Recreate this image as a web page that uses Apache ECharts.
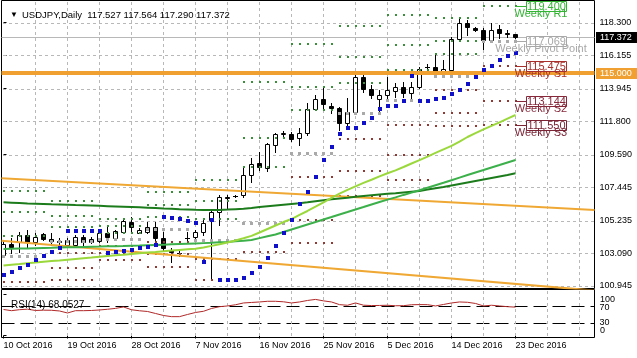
<!DOCTYPE html>
<html><head><meta charset="utf-8">
<script src="https://cdn.jsdelivr.net/npm/echarts@6/dist/echarts.min.js"></script>
<style>html,body{margin:0;padding:0;background:#fff}#c{width:637px;height:358px}</style>
</head><body><div id="c"></div>
<script>
// ---- bar data (daily, incl. Sunday bars) ----
const open = [103.00,103.70,103.85,104.30,103.86,104.34,104.03,103.87,103.64,103.64,104.14,103.86,103.92,104.41,104.08,104.51,105.17,104.45,104.51,104.80,104.08,103.31,103.12,104.07,104.19,104.51,105.29,105.83,106.80,106.88,106.94,108.25,109.03,108.70,110.23,110.98,110.96,110.67,111.00,112.59,113.25,112.81,112.65,111.66,112.43,114.74,113.91,113.25,113.53,113.81,114.04,113.68,114.04,115.40,115.40,115.13,115.18,117.21,118.26,117.93,117.82,117.16,117.86,117.60,117.527];
const high = [103.95,104.10,104.51,104.63,104.45,104.41,104.41,104.08,104.08,104.30,104.30,104.16,104.51,104.96,104.63,105.40,105.50,104.74,105.17,105.17,104.51,103.42,103.31,104.51,104.63,105.29,105.94,106.94,106.94,106.94,108.70,109.36,109.79,110.38,111.00,111.18,111.09,111.33,113.02,113.53,113.97,112.98,112.76,113.31,114.85,114.85,114.19,113.86,114.74,114.30,114.41,114.41,115.40,115.58,116.17,115.84,117.38,118.66,118.48,118.00,117.93,118.26,118.15,117.82,117.564];
const low = [102.90,103.11,103.19,103.52,103.64,103.97,103.64,103.64,103.52,103.52,103.57,103.75,103.86,103.86,103.97,104.41,104.41,104.41,104.41,103.86,103.31,102.54,102.91,103.86,104.08,104.30,101.33,104.96,106.06,106.80,106.82,107.81,108.58,108.54,109.79,110.83,110.50,110.23,110.89,112.54,112.54,112.32,111.22,111.55,112.32,113.75,113.31,112.43,113.20,113.42,113.42,113.20,113.97,115.23,115.07,114.74,115.07,117.16,117.49,117.75,116.55,117.05,117.27,117.38,117.290];
const close = [103.72,103.48,104.30,103.86,104.19,104.03,103.90,103.85,103.97,104.19,103.81,104.01,104.41,104.14,104.56,105.24,104.80,104.63,104.85,104.08,103.42,103.19,103.10,104.08,104.51,105.07,105.83,106.82,106.76,106.90,108.25,108.98,108.76,110.30,110.96,111.00,110.63,111.00,112.59,113.25,112.92,112.65,111.66,112.43,114.74,113.91,113.53,113.53,113.86,114.04,113.68,114.04,115.23,115.38,115.13,115.23,117.21,118.26,118.00,117.81,117.16,117.82,117.60,117.58,117.372];

// ---- indicators ----
const sar = [101.63,101.88,102.09,102.35,102.65,102.93,103.18,103.42,104.59,104.59,104.59,104.59,104.54,103.14,103.20,103.24,103.31,103.42,103.53,103.64,105.50,105.44,105.33,105.24,105.11,102.54,105.29,101.33,101.33,101.33,101.44,101.77,102.17,102.76,103.57,104.41,105.29,106.32,107.15,108.14,109.24,110.12,110.94,111.33,111.33,111.66,112.03,112.59,112.83,112.83,113.14,114.78,113.14,113.14,113.27,113.35,113.58,113.86,114.26,114.74,115.18,115.46,115.84,116.12,116.32];
const maFast = [102.29,102.34,102.38,102.44,102.48,102.53,102.58,102.62,102.67,102.72,102.77,102.81,102.86,102.91,102.96,103.00,103.05,103.10,103.14,103.18,103.23,103.27,103.31,103.35,103.39,103.47,103.58,103.69,103.80,103.93,104.08,104.24,104.46,104.69,104.92,105.15,105.35,105.62,105.88,106.16,106.45,106.75,107.03,107.27,107.50,107.73,107.94,108.16,108.37,108.56,108.78,109.01,109.23,109.47,109.71,109.94,110.17,110.46,110.76,111.02,111.26,111.49,111.73,111.97,112.21];
const maMid = [103.37,103.39,103.40,103.41,103.43,103.44,103.45,103.47,103.48,103.49,103.51,103.52,103.53,103.55,103.56,103.57,103.59,103.60,103.62,103.64,103.66,103.68,103.70,103.72,103.74,103.76,103.78,103.81,103.83,103.88,103.92,103.97,104.09,104.21,104.33,104.49,104.66,104.82,104.99,105.15,105.32,105.48,105.65,105.81,105.98,106.14,106.31,106.47,106.63,106.78,106.94,107.09,107.25,107.42,107.58,107.74,107.91,108.08,108.25,108.42,108.58,108.75,108.91,109.08,109.24];
const maSlow = [106.45,106.43,106.41,106.38,106.36,106.34,106.32,106.31,106.29,106.27,106.26,106.24,106.22,106.20,106.18,106.16,106.14,106.12,106.10,106.08,106.05,106.03,106.00,105.98,105.96,105.95,105.95,105.95,105.97,106.00,106.03,106.08,106.14,106.19,106.24,106.29,106.34,106.39,106.45,106.52,106.59,106.65,106.71,106.76,106.82,106.87,106.92,106.97,107.01,107.05,107.10,107.15,107.20,107.29,107.38,107.46,107.56,107.66,107.76,107.86,107.96,108.06,108.16,108.26,108.37];
const rsi = [62.4,59.5,61.9,63.1,60.0,60.7,60.5,58.8,54.0,59.5,59.5,60.0,61.2,62.9,65.0,68.4,61.7,59.3,57.6,52.8,48.0,45.2,45.2,50.4,55.2,58.1,64.8,69.1,70.8,73.7,78.0,79.2,80.4,82.0,82.0,80.8,78.0,80.4,84.0,86.5,83.0,80.4,74.0,72.5,78.0,72.7,71.8,72.0,72.5,71.3,71.5,73.7,74.1,73.9,70.8,74.4,78.0,80.4,79.6,76.8,70.8,72.5,70.8,69.1,68.05];

// ---- weekly pivot levels per week segment ----
const segStart = [0,6,12,18,24,30,36,42,48,54,60];
const segEnd   = [5,11,17,23,29,35,41,47,53,59,64];
const r3 = [107.20,106.54,105.33,107.11,107.95,114.39,116.87,118.08,118.81,118.62,123.33];
const r2 = [105.80,105.58,104.87,106.30,106.56,110.67,114.03,116.02,116.83,117.10,120.99];
const r1 = [104.20,104.81,104.44,105.47,105.32,108.78,112.51,114.34,115.18,116.24,119.40];
const pp = [102.86,103.85,103.98,104.66,103.93,105.06,109.67,112.28,113.20,114.72,117.069];
const s1 = [101.20,103.08,103.55,103.83,102.69,103.17,108.15,110.60,111.55,113.86,115.475];
const s2 = [99.90,102.12,103.09,103.02,101.30,99.45,105.31,108.54,109.57,112.34,113.144];
const s3 = [98.50,101.35,102.66,102.19,100.06,97.56,103.79,106.86,107.92,111.48,111.550];

// current week labels
const curNames  = ['Weekly R1','Weekly Pivot Point','Weekly S1','Weekly S2','Weekly S3'];
const curValues = [119.400, 117.069, 115.475, 113.144, 111.550];
const curColors = ['#33b433','#a8a8a8','#a8302c','#86283a','#7a2436'];

// trend lines / horizontal objects
const trendUpper = [[-0.25,108.04],[73.875,105.94]];
const trendLower = [[-0.25,103.91],[73.875,100.63]];
const hLevel = 115.000;
const bidPrice = 117.372;

// ticks
const priceTicks = [100.945,103.090,105.235,107.445,109.590,111.800,113.945,116.155,118.300];
const rsiLevels = [70,30];
const rsiEnds = [100,0];
const gridIdx = [4,8,12,16,20,24,28,32,36,40,44,48,52,56,60,64,68,72];
const xTickIdx = [0,8,16,24,32,40,48,56,64];
const xTickText = ['10 Oct 2016','19 Oct 2016','28 Oct 2016','7 Nov 2016','16 Nov 2016','25 Nov 2016','5 Dec 2016','14 Dec 2016','23 Dec 2016'];

const FONT = '"Liberation Sans", Arial, sans-serif';
const X_MIN = -0.25, X_MAX = 73.875;
const Y_MIN = 100.767, Y_MAX = 119.764;
const R_MIN = -4.73, R_MAX = 110.24;
const GRID_COLOR = '#b8b8b8';

const chart = echarts.init(document.getElementById('c'));

const candleData = open.map((o,i)=>[i,o,high[i],low[i],close[i]]);
const pivotDots = [];
const levelSets = [[r3,0],[r2,0],[r1,0],[pp,1],[s1,2],[s2,2],[s3,2]];
segStart.forEach((s,k)=>{ for(let i=s;i<=segEnd[k];i++){ levelSets.forEach(([arr,t])=>pivotDots.push([i,arr[k],t])); } });

function renderCandle(params, api){
  const i = api.value(0), o = api.value(1), c = api.value(4);
  const po = api.coord([i,o]), ph = api.coord([i,api.value(2)]), pl = api.coord([i,api.value(3)]), pc = api.coord([i,c]);
  const cx = Math.floor(po[0]) + 0.5;
  const yt = Math.round(Math.min(po[1],pc[1])) + 0.5;
  const yb = Math.round(Math.max(po[1],pc[1])) + 0.5;
  const ch = [{type:'line', shape:{x1:cx,y1:Math.round(ph[1]),x2:cx,y2:Math.round(pl[1])+1}, style:{stroke:'#000',lineWidth:1}}];
  if (yb - yt < 1) ch.push({type:'line', shape:{x1:cx-2.5,y1:yt,x2:cx+2.5,y2:yt}, style:{stroke:'#000',lineWidth:1}});
  else ch.push({type:'rect', shape:{x:cx-2,y:yt,width:4,height:yb-yt}, style:{fill: c>=o?'#fff':'#000', stroke:'#000', lineWidth:1}});
  return {type:'group', children:ch};
}
function renderSar(params, api){
  const p = api.coord([api.value(0), api.value(1)]);
  return {type:'rect', shape:{x:Math.round(p[0]-2), y:Math.round(p[1]-2), width:4, height:4}, style:{fill:'#1010c8'}};
}
function renderDot(params, api){
  const p = api.coord([api.value(0), api.value(1)]);
  const t = api.value(2);
  if (t === 1) return {type:'rect', shape:{x:Math.round(p[0]-1.5), y:Math.round(p[1]-1.5), width:3, height:3}, style:{fill:'#a9a9a9'}};
  return {type:'rect', shape:{x:Math.round(p[0]-1), y:Math.round(p[1]-1), width:2, height:2}, style:{fill: t===0 ? '#3a8f3a' : '#8f3a32'}};
}
// dashed grid lines built from small filled segments
function renderHGrid(params, api){
  const cs = params.coordSys;
  const y = Math.round(api.coord([api.value(0), api.value(1)])[1]);
  const ch = [];
  for (let x = Math.ceil(cs.x) + 1; x < cs.x + cs.width - 1; x += 6) ch.push({type:'rect', shape:{x:x, y:y, width:3, height:1}, style:{fill:GRID_COLOR}});
  return {type:'group', children:ch};
}
function renderVGrid(params, api){
  const cs = params.coordSys;
  const x = Math.floor(api.coord([api.value(0), api.value(1)])[0]);
  const ch = [];
  for (let y = Math.ceil(cs.y) + 1; y < cs.y + cs.height - 1; y += 6) ch.push({type:'rect', shape:{x:x, y:y, width:1, height:3}, style:{fill:GRID_COLOR}});
  return {type:'group', children:ch};
}
function renderRsiLevel(params, api){
  const cs = params.coordSys;
  const y = Math.round(api.coord([api.value(0), api.value(1)])[1]) + 0.5;
  return {type:'line', shape:{x1:cs.x, y1:y, x2:cs.x+cs.width, y2:y}, style:{stroke:'#000', lineWidth:1, lineDash:[13,6]}};
}
function renderRsiEnd(params, api){
  const v = api.value(1);
  const y = api.coord([api.value(0), v])[1];
  return {type:'text', style:{text:String(v), x:600, y: v===100 ? y+6 : y-5, fill:'#000', fontSize:9, fontFamily:FONT, align:'left', verticalAlign:'middle'}};
}
function makeHLine(color, width, boxFill){
  return function(params, api){
    const cs = params.coordSys;
    const v = api.value(1);
    const py = api.coord([api.value(0), v])[1];
    const y = Math.round(py) + (width % 2 ? 0.5 : 0);
    return {type:'group', children:[
      {type:'line', shape:{x1:cs.x, y1:y, x2:cs.x+cs.width, y2:y}, style:{stroke:color, lineWidth:width}},
      {type:'rect', shape:{x:596, y:Math.round(py)-5, width:41, height:11}, style:{fill:boxFill}},
      {type:'text', style:{text:v.toFixed(3), x:600, y:Math.round(py)+0.5, fill:'#fff', fontSize:9, fontFamily:FONT, align:'left', verticalAlign:'middle'}}
    ]};
  };
}
function renderCurPivot(params, api){
  const k = api.value(2);
  const v = api.value(1);
  const p = api.coord([api.value(0), v]);
  const col = curColors[k];
  const y = Math.round(p[1]) + 0.5;
  return {type:'group', children:[
    {type:'line', shape:{x1:p[0], y1:y, x2:526.5, y2:y}, style:{stroke:col, lineWidth:1}},
    {type:'rect', shape:{x:526.5, y:y-5, width:40, height:10}, style:{fill:'#fff', stroke:col, lineWidth:1}},
    {type:'text', style:{text:v.toFixed(3), x:546.5, y:y+0.5, fill:col, fontSize:11, fontFamily:FONT, align:'center', verticalAlign:'middle'}},
    {type:'text', style:{text:curNames[k], x:541, y:y+7, fill:col, fontSize:11, fontFamily:FONT, align:'center', verticalAlign:'middle'}}
  ]};
}

const option = {
  animation:false,
  backgroundColor:'#fff',
  title:[
    {text:'▼', left:5, top:6, textStyle:{fontSize:8, fontWeight:'normal', color:'#000', fontFamily:FONT}},
    {text:'USDJPY,Daily  117.527 117.564 117.290 117.372', left:17, top:5, textStyle:{fontSize:9.5, fontWeight:'normal', color:'#000', fontFamily:FONT}},
    {text:'RSI(14) 68.0527', left:6, top:295, textStyle:{fontSize:10, fontWeight:'normal', color:'#000', fontFamily:FONT}}
  ],
  grid:[
    {left:1.5, top:0.5, width:593, height:288, show:true, borderColor:'#000', borderWidth:1, backgroundColor:'transparent'},
    {left:1.5, top:289.5, width:593, height:48, show:true, borderColor:'#000', borderWidth:1, backgroundColor:'transparent'}
  ],
  xAxis:[
    {gridIndex:0, type:'value', min:X_MIN, max:X_MAX, show:false},
    {gridIndex:1, type:'value', min:X_MIN, max:X_MAX, axisLine:{show:false}, splitLine:{show:false},
      axisTick:{show:true, customValues:xTickIdx, length:3, lineStyle:{color:'#000'}},
      axisLabel:{customValues:xTickIdx, hideOverlap:false, formatter:v=>xTickText[xTickIdx.indexOf(Math.round(v))], align:'left', margin:4, fontSize:9, color:'#000', fontFamily:FONT}}
  ],
  yAxis:[
    {gridIndex:0, type:'value', position:'right', min:Y_MIN, max:Y_MAX, axisLine:{show:false}, splitLine:{show:false},
      axisTick:{show:true, customValues:priceTicks, length:3, lineStyle:{color:'#000'}},
      axisLabel:{customValues:priceTicks, hideOverlap:false, formatter:v=>v.toFixed(3), margin:5, fontSize:9, color:'#000', fontFamily:FONT}},
    {gridIndex:1, type:'value', position:'right', min:R_MIN, max:R_MAX, axisLine:{show:false}, splitLine:{show:false},
      axisTick:{show:true, customValues:[0,30,70,100], length:3, lineStyle:{color:'#000'}},
      axisLabel:{customValues:rsiLevels, hideOverlap:false, margin:5, color:'#000', fontSize:9, fontFamily:FONT,
        formatter:v=> v===70 ? '{c|70}' : String(v),
        rich:{c:{padding:[2,0,0,0], fontSize:9, fontFamily:FONT, color:'#000'}}}}
  ],
  series:[
    {type:'custom', name:'bid', xAxisIndex:0, yAxisIndex:0, z:2, silent:true, renderItem:makeHLine('#b8b8b8',1,'#000'), data:[[X_MIN,bidPrice]]},
    {type:'custom', name:'hgrid', xAxisIndex:0, yAxisIndex:0, z:2, silent:true, renderItem:renderHGrid, data:priceTicks.map(v=>[1,v])},
    {type:'custom', name:'vgrid', xAxisIndex:0, yAxisIndex:0, z:2, silent:true, renderItem:renderVGrid, data:gridIdx.map(i=>[i,110])},
    {type:'custom', name:'candles', xAxisIndex:0, yAxisIndex:0, z:3, silent:true, clip:true, renderItem:renderCandle, data:candleData},
    {type:'custom', name:'pivots', xAxisIndex:0, yAxisIndex:0, z:4, silent:true, clip:true, renderItem:renderDot, data:pivotDots},
    {type:'custom', name:'hline', xAxisIndex:0, yAxisIndex:0, z:5, silent:true, renderItem:makeHLine('#f0a030',4,'#f0a030'), data:[[X_MIN,hLevel]]},
    {type:'line', name:'trendUpper', xAxisIndex:0, yAxisIndex:0, z:5, silent:true, showSymbol:false, data:trendUpper, lineStyle:{color:'#f0a834', width:2}},
    {type:'line', name:'trendLower', xAxisIndex:0, yAxisIndex:0, z:5, silent:true, showSymbol:false, data:trendLower, lineStyle:{color:'#f0a834', width:2}},
    {type:'line', name:'maSlow', xAxisIndex:0, yAxisIndex:0, z:6, silent:true, showSymbol:false, data:maSlow.map((v,i)=>[i,v]), lineStyle:{color:'#1c7c1c', width:2}},
    {type:'line', name:'maMid', xAxisIndex:0, yAxisIndex:0, z:6, silent:true, showSymbol:false, data:maMid.map((v,i)=>[i,v]), lineStyle:{color:'#3cb04a', width:2}},
    {type:'line', name:'maFast', xAxisIndex:0, yAxisIndex:0, z:6, silent:true, showSymbol:false, data:maFast.map((v,i)=>[i,v]), lineStyle:{color:'#9ad83c', width:2}},
    {type:'custom', name:'sar', xAxisIndex:0, yAxisIndex:0, z:7, silent:true, clip:true, renderItem:renderSar, data:sar.map((v,i)=>[i,v])},
    {type:'custom', name:'curPivots', xAxisIndex:0, yAxisIndex:0, z:8, silent:true, renderItem:renderCurPivot, data:curValues.map((v,k)=>[64,v,k])},
    {type:'custom', name:'rsiLevels', xAxisIndex:1, yAxisIndex:1, z:2, silent:true, renderItem:renderRsiLevel, data:rsiLevels.map(v=>[X_MIN,v])},
    {type:'custom', name:'vgrid2', xAxisIndex:1, yAxisIndex:1, z:2, silent:true, renderItem:renderVGrid, data:gridIdx.map(i=>[i,50])},
    {type:'custom', name:'rsiEnds', xAxisIndex:1, yAxisIndex:1, z:2, silent:true, renderItem:renderRsiEnd, data:rsiEnds.map(v=>[X_MAX,v])},
    {type:'line', name:'rsi', xAxisIndex:1, yAxisIndex:1, z:3, silent:true, showSymbol:false, data:rsi.map((v,i)=>[i,v]), lineStyle:{color:'#b02828', width:1}}
  ]
};
chart.setOption(option);
</script>
</body></html>
